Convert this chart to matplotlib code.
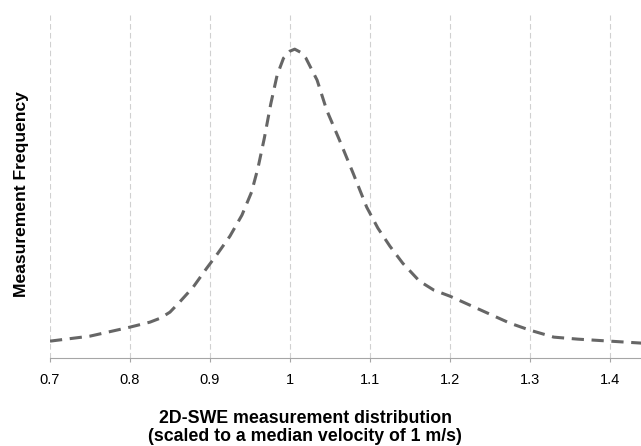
import matplotlib.pyplot as plt

plt.rcParams['font.family'] = ['Liberation Sans', 'DejaVu Sans']

# Scaled velocity and relative measurement frequency
velocity = [0.70, 0.75, 0.80, 0.825, 0.838, 0.85, 0.862, 0.879, 0.896,
            0.91, 0.925, 0.94, 0.952, 0.96, 0.968, 0.976, 0.984, 0.992,
            1.0, 1.006, 1.013, 1.02, 1.034, 1.046, 1.062, 1.079, 1.096,
            1.11, 1.125, 1.141, 1.162, 1.18, 1.20, 1.225, 1.25, 1.275,
            1.30, 1.33, 1.36, 1.40, 1.44]
frequency = [17, 22, 31, 36, 40, 46, 56, 71, 90,
             105, 122, 143, 166, 190, 220, 254, 283, 300,
             307, 309, 306, 300, 278, 248, 218, 185, 151,
             130, 112, 95, 77, 68, 62, 53, 44, 35,
             28, 21, 19, 17, 15]
xticks = [0.7, 0.8, 0.9, 1.0, 1.1, 1.2, 1.3, 1.4]
xtick_labels = ['0.7', '0.8', '0.9', '1', '1.1', '1.2', '1.3', '1.4']

fig = plt.figure(figsize=(6.41, 4.46), dpi=100)
ax = fig.add_axes([0.078, 0.197, 0.922, 0.769])

ax.plot(velocity, frequency, color='#666666', linewidth=2.2,
        linestyle=(0, (4, 2.5)), solid_joinstyle='round')

ax.set_xlim(0.7, 1.439)
ax.set_ylim(0, 343)
ax.set_xticks(xticks)
ax.set_xticklabels(xtick_labels, fontsize=10.5)
ax.set_yticks([])
ax.grid(axis='x', color='#d0d0d0', linestyle=(0, (5, 3)), linewidth=0.8)

for side in ['top', 'right', 'left']:
    ax.spines[side].set_visible(False)
ax.spines['bottom'].set_color('#a6a6a6')
ax.tick_params(axis='x', length=3, color='#a6a6a6', pad=8)

fig.text(0.476, 0.041, '2D-SWE measurement distribution\n(scaled to a median velocity of 1 m/s)',
         fontsize=12.8, fontweight='bold', ha='center', va='center', linespacing=1.05)
fig.text(0.034, 0.566, 'Measurement Frequency', fontsize=12.6, fontweight='bold',
         rotation=90, ha='center', va='center')

fig.savefig('out.png', dpi=100)
